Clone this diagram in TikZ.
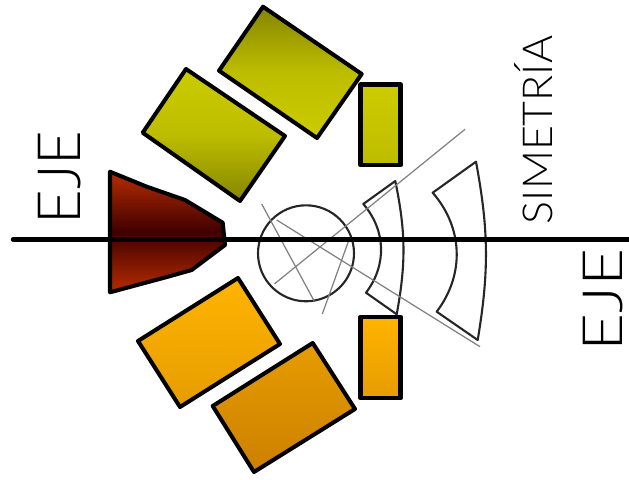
\documentclass[tikz,border=0pt]{standalone}
\usepackage{fontspec}
\newfontfamily\ejefont[UprightFont=* Light]{Lato}
\definecolor{olivedark}{HTML}{858500}
\definecolor{olivelight}{HTML}{CCCC00}
\definecolor{olivemid}{HTML}{BDBD00}
\definecolor{orangelight}{HTML}{FFB400}
\definecolor{orangemid}{HTML}{E69C00}
\definecolor{orangedark}{HTML}{CC8000}
\definecolor{reddark}{HTML}{3F0000}
\definecolor{redlight}{HTML}{B82C00}
\begin{document}
\begin{tikzpicture}[x=0.02cm,y=-0.02cm,line join=round,
                    coil/.style={draw=black,line width=2.3pt},
                    bore/.style={draw=black!85,line width=1.2pt},
                    guide/.style={draw=black!50,line width=0.7pt},
                    axis line/.style={draw=black,line width=2.5pt,line cap=round},
                    big label/.style={rotate=90,inner sep=0pt,font=\ejefont\fontsize{34}{34}\selectfont},
                    small label/.style={rotate=90,inner sep=0pt,font=\ejefont\fontsize{23.5}{23.5}\selectfont}]
\useasboundingbox (0,0) rectangle (629,480);
%%%%%
\coordinate (axis left) at (13,239.5);
\coordinate (axis right) at (629,239.5);
\coordinate (g1a) at (261.7,204);  \coordinate (g1b) at (314,300.7);
\coordinate (g2a) at (276.7,220);  \coordinate (g2b) at (480,346.7);
\coordinate (g3a) at (274.3,284);  \coordinate (g3b) at (465,129.3);
\coordinate (g4a) at (348.3,241.7);\coordinate (g4b) at (322.3,314);
%%%%%%% upper coils
\path[coil,top color=olivedark,bottom color=olivelight,middle color=olivemid]
  (263,6.7) -- (361.7,74) -- (317,138) -- (219,70.7) -- cycle;
\path[coil,top color=olivelight,bottom color=olivedark,middle color=olivemid]
  (186,69) -- (285,136) -- (240,201) -- (142.7,132.7) -- cycle;
%%%%%%% lower coils
\path[coil,top color=orangelight,bottom color=orangemid]
  (238,278) -- (280,344) -- (180,407) -- (138,341) -- cycle;
\path[coil,top color=orangemid,bottom color=orangedark]
  (312.7,343) -- (355,409) -- (254,472) -- (212.7,406) -- cycle;
%%%%%%% pole
\path[coil,top color=redlight,bottom color=redlight,middle color=reddark]
  (110,171.7) -- (146.7,186.7) -- (185,200) -- (222.7,222.7) -- (225,245)
  -- (191.7,270) -- (168,276.7) -- (110,292.3) -- cycle;
%%%%%%% rotor and sectors
\node[bore,circle,minimum size=1.92cm,inner sep=0pt] (rotor) at (306,253.3) {};
\draw[bore] (363.3,204) -- (395.3,181) to[bend left=11] (396.7,314.3)
  -- (366,292.7) to[bend right=39] cycle;
\draw[bore] (432.7,192.7) -- (476,161.7) to[bend left=10] (477.7,340)
  -- (436.7,311.7) to[bend right=39] cycle;
%%%%%%% guide lines
\draw[guide] (g1a) -- (g1b);
\draw[guide] (g2a) -- (g2b);
\draw[guide] (g3a) -- (g3b);
\draw[guide] (g4a) -- (g4b);
%%%%%%% side coils
\path[coil,line width=2.6pt,top color=olivelight,bottom color=olivemid]
  (360.7,84.7) rectangle (400.7,165);
\path[coil,line width=2.6pt,top color=orangelight,bottom color=orangemid]
  (360.7,317) rectangle (400.7,398);
%%%%%%%
\draw[axis line] (axis left) -- (axis right);
\node[big label] (eje left) at (59.5,177.5) {EJE};
\node[big label,xscale=1.1,yscale=0.93] (eje right) at (603,300) {EJE};
\node[small label,xscale=1.04] (simetria) at (534,130) {SIMETRÍA};
\end{tikzpicture}
\end{document}
